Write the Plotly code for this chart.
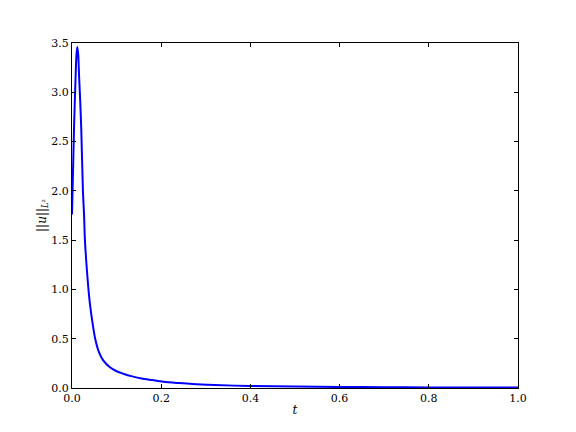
import plotly.graph_objects as go

# values
t = [0.0, 0.0045, 0.008, 0.010, 0.0119, 0.014, 0.016, 0.0185, 0.0208, 0.0245, 0.027,
     0.029, 0.033, 0.037, 0.040, 0.046, 0.052, 0.060, 0.070, 0.085, 0.100, 0.115,
     0.135, 0.156, 0.180, 0.205, 0.240, 0.270, 0.320, 0.400, 0.500, 0.600, 0.700,
     0.800, 0.900, 1.000]
u_norm = [1.76, 2.63, 3.15, 3.38, 3.46, 3.38, 3.15, 2.90, 2.62, 2.0, 1.76,
          1.50, 1.22, 0.995, 0.86, 0.66, 0.50, 0.37, 0.28, 0.21, 0.17, 0.145,
          0.118, 0.096, 0.08, 0.064, 0.05, 0.04, 0.03, 0.02, 0.014, 0.01, 0.008,
          0.006, 0.005, 0.004]

x_ticks = [0.0, 0.2, 0.4, 0.6, 0.8, 1.0]
y_ticks = [0.0, 0.5, 1.0, 1.5, 2.0, 2.5, 3.0, 3.5]

fig = go.Figure()
fig.add_trace(go.Scatter(x=t, y=u_norm, mode='lines',
                         line=dict(color='#0000ff', width=2, shape='spline', smoothing=0.8)))

axis_style = dict(showline=True, linecolor='black', linewidth=1, mirror='ticks',
                  ticks='inside', ticklen=4, tickcolor='black', showgrid=False,
                  zeroline=False, tickformat='.1f',
                  tickfont=dict(family='DejaVu Serif', size=11, color='black'))

fig.update_xaxes(range=[0, 1], tickvals=x_ticks, **axis_style,
                 title=dict(text='<i>t</i>', standoff=1,
                            font=dict(family='DejaVu Serif', size=12, color='black')))
fig.update_yaxes(range=[0, 3.5], tickvals=y_ticks, **axis_style,
                 title=dict(text='||<i>u</i>||<sub><i>L</i>²</sub>', standoff=2,
                            font=dict(family='DejaVu Serif', size=12, color='black')))

# page has an 8px body margin, so the figure is a little smaller than the window
fig.update_layout(width=568, height=424, showlegend=False,
                  paper_bgcolor='white', plot_bgcolor='white',
                  margin=dict(l=64, r=58, t=35, b=44))

fig.write_html("out.html")
